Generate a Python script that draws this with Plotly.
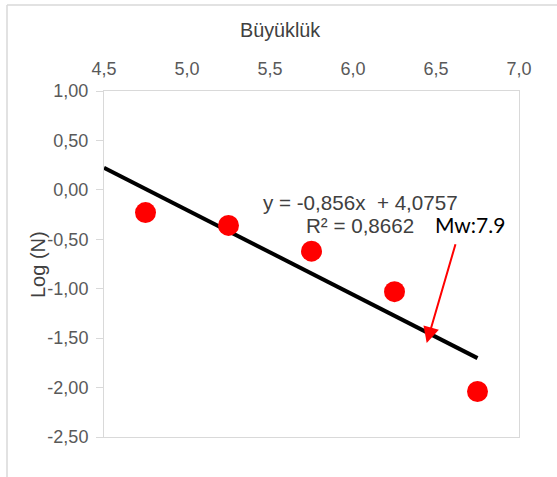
import plotly.graph_objects as go

# Data
magnitude = [4.75, 5.25, 5.75, 6.25, 6.75]
log_n = [-0.23, -0.36, -0.62, -1.03, -2.04]
trend_x = [4.5, 6.75]
trend_y = [0.224, -1.702]
x_ticks = [4.5, 5.0, 5.5, 6.0, 6.5, 7.0]
x_tick_labels = ["4,5", "5,0", "5,5", "6,0", "6,5", "7,0"]
y_ticks = [1.0, 0.5, 0.0, -0.5, -1.0, -1.5, -2.0, -2.5]
y_tick_labels = ["1,00", "0,50", "0,00", "-0,50", "-1,00", "-1,50", "-2,00", "-2,50"]
equation_text = "y = -0,856x  + 4,0757"
r2_text = "R² = 0,8662"
mw_text = "Mw:7.9"
arrow_tip = (6.444, -1.549)
arrow_tail = (6.62, -0.535)

W, H = 557, 477
L, R, T, B = 104, 519, 91, 437
pw, ph = R - L, B - T

def px(xp):
    return (xp - L) / pw

def py(yp):
    return (B - yp) / ph

fig = go.Figure()
fig.add_trace(go.Scatter(x=trend_x, y=trend_y, mode="lines",
                         line=dict(color="black", width=4), showlegend=False,
                         hoverinfo="skip"))
fig.add_trace(go.Scatter(x=magnitude, y=log_n, mode="markers",
                         marker=dict(color="#ff0000", size=21, line=dict(width=0)),
                         showlegend=False))

grey = "#d9d9d9"
tickfont = dict(family="Liberation Sans, Arial", size=18, color="#595959")

fig.update_layout(
    width=W, height=H,
    margin=dict(l=L, r=W - R, t=T, b=H - B, pad=0),
    paper_bgcolor="white", plot_bgcolor="white",
    xaxis=dict(range=[4.5, 7.0], side="top", tickvals=x_ticks, ticktext=x_tick_labels,
               showgrid=False, zeroline=False, showline=True, mirror=True,
               linecolor=grey, linewidth=1, ticks="", tickfont=tickfont,
               ticklabelstandoff=8),
    yaxis=dict(range=[-2.5, 1.0], tickvals=y_ticks, ticktext=y_tick_labels,
               showgrid=False, zeroline=False, showline=True, mirror=True,
               linecolor=grey, linewidth=1, ticks="outside", ticklen=7,
               tickcolor=grey, tickfont=tickfont, ticklabelstandoff=4),
    font=dict(family="Liberation Sans, Arial"),
)

annotations = [
    dict(text="Büyüklük", xref="paper", yref="paper", x=px(280), y=py(30),
         showarrow=False, font=dict(family="Liberation Sans, Arial", size=19.8, color="#404040"),
         xanchor="center", yanchor="middle"),
    dict(text="Log (N)", xref="paper", yref="paper", x=px(38), y=py(265),
         showarrow=False, textangle=-90,
         font=dict(family="Liberation Sans, Arial", size=20, color="#404040"),
         xanchor="center", yanchor="middle"),
    dict(text=equation_text, xref="x", yref="y", x=6.048, y=-0.123, showarrow=False,
         font=dict(family="Liberation Sans, Arial", size=20.6, color="#404040"),
         xanchor="center", yanchor="middle"),
    dict(text=r2_text, xref="x", yref="y", x=6.042, y=-0.36, showarrow=False,
         font=dict(family="Liberation Sans, Arial", size=20.6, color="#404040"),
         xanchor="center", yanchor="middle"),
    dict(text=mw_text, xref="x", yref="y", x=6.705, y=-0.355, showarrow=False,
         font=dict(family="Lato, Open Sans", size=21, color="black"),
         xanchor="center", yanchor="middle"),
    dict(x=arrow_tip[0], y=arrow_tip[1], xref="x", yref="y",
         ax=arrow_tail[0], ay=arrow_tail[1], axref="x", ayref="y",
         text="", showarrow=True, arrowhead=2, arrowsize=1.6, arrowwidth=2,
         arrowcolor="#ff0000", standoff=0),
]
fig.update_layout(annotations=annotations)

# outer chart border (top and left edges visible)
fig.add_shape(type="line", xref="paper", yref="paper",
              x0=px(7), y0=py(5), x1=px(570), y1=py(5),
              line=dict(color=grey, width=1.5))
fig.add_shape(type="line", xref="paper", yref="paper",
              x0=px(7), y0=py(5), x1=px(7), y1=py(490),
              line=dict(color=grey, width=1.5))

fig.write_html("out.html", config={"displayModeBar": False},
               post_script="document.body.style.margin='0px';")
